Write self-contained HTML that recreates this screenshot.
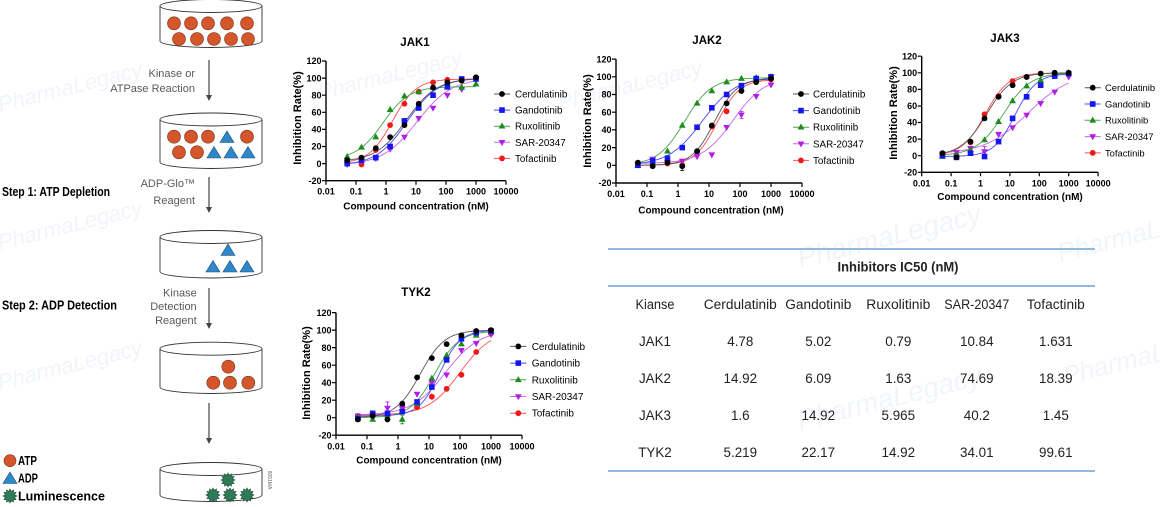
<!DOCTYPE html>
<html><head><meta charset="utf-8"><style>
html,body{margin:0;padding:0;background:#fff;overflow:hidden}
svg{display:block}
.t{font-weight:bold;font-size:11.5px;text-anchor:middle}
.ax{fill:none;stroke:#000;stroke-width:1.4}
.tk{fill:none;stroke:#000;stroke-width:1.2}
.yl{font-weight:bold;font-size:9px;text-anchor:end}
.xl{font-weight:bold;font-size:9px;text-anchor:middle}
.at{font-weight:bold;font-size:10px;text-anchor:middle}
.ay{font-weight:bold;font-size:11px;text-anchor:middle}
.lg{font-size:9.8px}
.gr{fill:#5a5a5a;font-size:11px;text-anchor:end}
.st{font-weight:bold;font-size:13px}
.tb{font-size:13.4px;fill:#222;text-anchor:middle}
.wm{font-style:italic;font-size:22px;fill:#dbe6f2;opacity:0.4}
</style></head><body>
<svg id="s" width="1160" height="507" viewBox="0 0 1160 507" xmlns="http://www.w3.org/2000/svg" font-family="'Liberation Sans', Arial, sans-serif">
<defs>
<circle id="ci" r="2.9"/>
<rect id="sq" x="-2.8" y="-2.8" width="5.6" height="5.6"/>
<path id="tu" d="M0,-3.7L3.4,2.3L-3.4,2.3Z"/>
<path id="td" d="M0,3.7L3.4,-2.3L-3.4,-2.3Z"/>
<path id="star" d="M7,0L4.64,1.24L6.06,3.5L3.39,3.39L3.5,6.06L1.24,4.64L0,7L-1.24,4.64L-3.5,6.06L-3.39,3.39L-6.06,3.5L-4.64,1.24L-7,0L-4.64,-1.24L-6.06,-3.5L-3.39,-3.39L-3.5,-6.06L-1.24,-4.64L0,-7L1.24,-4.64L3.5,-6.06L3.39,-3.39L6.06,-3.5L4.64,-1.24Z"/>
<path id="tri" d="M0,-6.5L7,5L-7,5Z"/>
</defs>
<rect width="1160" height="507" fill="#fff"/>

<!-- watermarks -->
<g class="wm">
<text transform="translate(0,112) rotate(-14)">PharmaLegacy</text>
<text transform="translate(0,250) rotate(-14)">PharmaLegacy</text>
<text transform="translate(0,390) rotate(-14)">PharmaLegacy</text>
<text transform="translate(320,100) rotate(-14)">PharmaLegacy</text>
<text transform="translate(560,110) rotate(-14)">PharmaLegacy</text>
<text transform="translate(800,268) rotate(-14)" font-size="28">PharmaLegacy</text>
<text transform="translate(800,430) rotate(-14)" font-size="28">PharmaLegacy</text>
<text transform="translate(1060,262) rotate(-14)" font-size="26">PharmaLegacy</text>
<text transform="translate(1065,385) rotate(-14)" font-size="26">PharmaLegacy</text>
</g>

<!-- LEFT DIAGRAM -->
<g stroke="#333" stroke-width="0.9" fill="#fff">
<path d="M160,6V41A51,6.5 0 0 0 262,41V6"/><ellipse cx="211" cy="6" rx="51" ry="6.5"/>
<path d="M160,119.5V162A51,6.5 0 0 0 262,162V119.5"/><ellipse cx="211" cy="119.5" rx="51" ry="6.5"/>
<path d="M160,237V271.5A51,6.5 0 0 0 262,271.5V237"/><ellipse cx="211" cy="237" rx="51" ry="6.5"/>
<path d="M160,348.7V387A51,6.5 0 0 0 262,387V348.7"/><ellipse cx="211" cy="348.7" rx="51" ry="6.5"/>
<path d="M160,469V495A51,6.5 0 0 0 262,495V469"/><ellipse cx="211" cy="469" rx="51" ry="6.5"/>
</g>
<g fill="#d4572c" stroke="#7a2e14" stroke-width="0.6">
<circle cx="174" cy="23.3" r="6.5"/><circle cx="191" cy="23.3" r="6.5"/><circle cx="208" cy="23.3" r="6.5"/><circle cx="227" cy="23.3" r="6.5"/><circle cx="247" cy="23.3" r="6.5"/>
<circle cx="179" cy="39" r="6.5"/><circle cx="197" cy="39" r="6.5"/><circle cx="214" cy="39" r="6.5"/><circle cx="231" cy="39" r="6.5"/><circle cx="248" cy="39" r="6.5"/>
<circle cx="174" cy="136.7" r="6.5"/><circle cx="191" cy="136.7" r="6.5"/><circle cx="208" cy="136.7" r="6.5"/><circle cx="247" cy="136.7" r="6.5"/>
<circle cx="179" cy="152.3" r="6.5"/><circle cx="197" cy="152.3" r="6.5"/>
<circle cx="228.3" cy="366.7" r="6.5"/><circle cx="213.3" cy="382.7" r="6.5"/><circle cx="230" cy="382.7" r="6.5"/><circle cx="248.3" cy="382.7" r="6.5"/>
<circle cx="10" cy="460.7" r="6"/>
</g>
<g fill="#2f86c8" stroke="#1d4f7a" stroke-width="0.6">
<use href="#tri" x="227" y="137.5"/>
<use href="#tri" x="214" y="153"/><use href="#tri" x="231" y="153"/><use href="#tri" x="248" y="153"/>
<use href="#tri" x="228" y="250.5"/>
<use href="#tri" x="213" y="267"/><use href="#tri" x="230" y="267"/><use href="#tri" x="247" y="267"/>
<use href="#tri" x="10" y="478.5"/>
</g>
<g fill="#2f7a58" stroke="#1b4a34" stroke-width="0.6">
<use href="#star" x="228" y="480"/><use href="#star" x="213" y="495"/><use href="#star" x="230" y="495"/><use href="#star" x="247" y="495"/>
<use href="#star" x="10" y="496"/>
</g>
<g stroke="#444" stroke-width="1.2" fill="none">
<path d="M209,60V96"/><path d="M209,177V208"/><path d="M209,288V324"/><path d="M209,403V439"/>
</g>
<g fill="#444">
<path d="M206,95L212,95L209,101Z"/><path d="M206,207L212,207L209,213Z"/><path d="M206,323L212,323L209,329Z"/><path d="M206,438L212,438L209,444Z"/>
</g>
<text class="gr" x="195" y="77">Kinase or</text>
<text class="gr" x="195" y="92">ATPase Reaction</text>
<text class="gr" x="195" y="187">ADP-Glo™</text>
<text class="gr" x="195" y="204">Reagent</text>
<text class="gr" x="196.7" y="296.7">Kinase</text>
<text class="gr" x="196.7" y="310">Detection</text>
<text class="gr" x="196.7" y="324">Reagent</text>
<text class="st" x="2" y="196" textLength="108" lengthAdjust="spacingAndGlyphs">Step 1: ATP Depletion</text>
<text class="st" x="2" y="309.5" textLength="115" lengthAdjust="spacingAndGlyphs">Step 2: ADP Detection</text>
<text class="st" x="18" y="465" textLength="19" lengthAdjust="spacingAndGlyphs">ATP</text>
<text class="st" x="18" y="482.5" textLength="20" lengthAdjust="spacingAndGlyphs">ADP</text>
<text class="st" x="18" y="500.5" textLength="87" lengthAdjust="spacingAndGlyphs">Luminescence</text>
<text transform="translate(268,480) rotate(90)" font-size="5" fill="#666" text-anchor="middle">8051MA</text>

<!-- JAK1 -->
<text class="t" x="415" y="46">JAK1</text>
<path class="ax" d="M326,61V180.7H506"/>
<path class="tk" d="M322,61H326M322,78.1H326M322,95.2H326M322,112.3H326M322,129.4H326M322,146.5H326M322,163.6H326M322,180.7H326M326,180.7v4M356,180.7v4M386,180.7v4M416,180.7v4M446,180.7v4M476,180.7v4M506,180.7v4"/>
<g class="yl"><text x="321.5" y="64.2">120</text><text x="321.5" y="81.3">100</text><text x="321.5" y="98.4">80</text><text x="321.5" y="115.5">60</text><text x="321.5" y="132.6">40</text><text x="321.5" y="149.7">20</text><text x="321.5" y="166.8">0</text><text x="321.5" y="183.9">-20</text></g>
<g class="xl"><text x="326" y="194.5">0.01</text><text x="356" y="194.5">0.1</text><text x="386" y="194.5">1</text><text x="416" y="194.5">10</text><text x="446" y="194.5">100</text><text x="476" y="194.5">1000</text><text x="506" y="194.5">10000</text></g>
<text class="at" x="416" y="209.5" font-size="9.9">Compound concentration (nM)</text>
<text class="ay" transform="translate(297,118) rotate(-90)" dy="4">Inhibition Rate(%)</text>

<!-- JAK2 -->
<text class="t" x="707" y="44">JAK2</text>
<path class="ax" d="M616,59.1V183H802"/>
<path class="tk" d="M612,59.1H616M612,76.8H616M612,94.5H616M612,112.2H616M612,129.9H616M612,147.6H616M612,165.3H616M612,183H616M616,183v4M647,183v4M678,183v4M709,183v4M740,183v4M771,183v4M802,183v4"/>
<g class="yl"><text x="611.5" y="62.3">120</text><text x="611.5" y="80">100</text><text x="611.5" y="97.7">80</text><text x="611.5" y="115.4">60</text><text x="611.5" y="133.1">40</text><text x="611.5" y="150.8">20</text><text x="611.5" y="168.5">0</text><text x="611.5" y="186.2">-20</text></g>
<g class="xl"><text x="616" y="196.8">0.01</text><text x="647" y="196.8">0.1</text><text x="678" y="196.8">1</text><text x="709" y="196.8">10</text><text x="740" y="196.8">100</text><text x="771" y="196.8">1000</text><text x="802" y="196.8">10000</text></g>
<text class="at" x="711" y="213.5" font-size="10.3">Compound concentration (nM)</text>
<text class="ay" transform="translate(587,121) rotate(-90)" dy="4">Inhibition Rate(%)</text>

<!-- JAK3 -->
<text class="t" x="1005" y="42" font-size="11">JAK3</text>
<path class="ax" d="M921.7,56.2V172.3H1098.1"/>
<path class="tk" d="M917.7,56.2H921.7M917.7,72.8H921.7M917.7,89.4H921.7M917.7,106H921.7M917.7,122.5H921.7M917.7,139.1H921.7M917.7,155.7H921.7M917.7,172.3H921.7M921.7,172.3v4M951.1,172.3v4M980.5,172.3v4M1009.9,172.3v4M1039.3,172.3v4M1068.7,172.3v4M1098.1,172.3v4"/>
<g class="yl"><text x="917.2" y="59.4">120</text><text x="917.2" y="76">100</text><text x="917.2" y="92.6">80</text><text x="917.2" y="109.2">60</text><text x="917.2" y="125.7">40</text><text x="917.2" y="142.3">20</text><text x="917.2" y="158.9">0</text><text x="917.2" y="175.5">-20</text></g>
<g class="xl"><text x="921.7" y="186.3">0.01</text><text x="951.1" y="186.3">0.1</text><text x="980.5" y="186.3">1</text><text x="1009.9" y="186.3">10</text><text x="1039.3" y="186.3">100</text><text x="1068.7" y="186.3">1000</text><text x="1098.1" y="186.3">10000</text></g>
<text class="at" x="1010" y="200" font-size="9.6">Compound concentration (nM)</text>
<text class="ay" transform="translate(893,113) rotate(-90)" dy="3.8" font-size="10.4">Inhibition Rate(%)</text>

<!-- TYK2 -->
<text class="t" x="416" y="296">TYK2</text>
<path class="ax" d="M336,312.6V435.2H522"/>
<path class="tk" d="M332,312.6H336M332,330.1H336M332,347.6H336M332,365.2H336M332,382.7H336M332,400.2H336M332,417.7H336M332,435.2H336M336,435.2v4M367,435.2v4M398,435.2v4M429,435.2v4M460,435.2v4M491,435.2v4M522,435.2v4"/>
<g class="yl"><text x="331.5" y="315.8">120</text><text x="331.5" y="333.3">100</text><text x="331.5" y="350.8">80</text><text x="331.5" y="368.4">60</text><text x="331.5" y="385.9">40</text><text x="331.5" y="403.4">20</text><text x="331.5" y="420.9">0</text><text x="331.5" y="438.4">-20</text></g>
<g class="xl"><text x="336" y="449.3">0.01</text><text x="367" y="449.3">0.1</text><text x="398" y="449.3">1</text><text x="429" y="449.3">10</text><text x="460" y="449.3">100</text><text x="491" y="449.3">1000</text><text x="522" y="449.3">10000</text></g>
<text class="at" x="429" y="463.5" font-size="10.2">Compound concentration (nM)</text>
<text class="ay" transform="translate(306,373) rotate(-90)" dy="4">Inhibition Rate(%)</text>

<!-- LEGENDS -->
<g stroke-width="1" fill="none">
<path stroke="#555" d="M494,94H510M793,94H809M1084.7,87.7H1100.7M510.3,346.4H526.3"/>
<path stroke="#4848ff" d="M494,110.1H510M793,110.6H809M1084.7,104H1100.7M510.3,363.1H526.3"/>
<path stroke="#45a845" d="M494,126.2H510M793,127.2H809M1084.7,120.3H1100.7M510.3,379.8H526.3"/>
<path stroke="#c864f0" d="M494,142.3H510M793,143.8H809M1084.7,136.6H1100.7M510.3,396.5H526.3"/>
<path stroke="#ff5050" d="M494,158.4H510M793,160.4H809M1084.7,152.9H1100.7M510.3,413.2H526.3"/>
</g>
<g fill="#000"><use href="#ci" x="502" y="94"/><use href="#ci" x="801" y="94"/><use href="#ci" x="1092.7" y="87.7"/><use href="#ci" x="518.3" y="346.4"/></g>
<g fill="#1515ee"><use href="#sq" x="502" y="110.1"/><use href="#sq" x="801" y="110.6"/><use href="#sq" x="1092.7" y="104"/><use href="#sq" x="518.3" y="363.1"/></g>
<g fill="#1e8a1e"><use href="#tu" x="502" y="126.2"/><use href="#tu" x="801" y="127.2"/><use href="#tu" x="1092.7" y="120.3"/><use href="#tu" x="518.3" y="379.8"/></g>
<g fill="#b01ee8"><use href="#td" x="502" y="142.3"/><use href="#td" x="801" y="143.8"/><use href="#td" x="1092.7" y="136.6"/><use href="#td" x="518.3" y="396.5"/></g>
<g fill="#ee1a1a"><use href="#ci" x="502" y="158.4"/><use href="#ci" x="801" y="160.4"/><use href="#ci" x="1092.7" y="152.9"/><use href="#ci" x="518.3" y="413.2"/></g>
<g class="lg">
<text x="515" y="97.5">Cerdulatinib</text><text x="515" y="113.6">Gandotinib</text><text x="515" y="129.7">Ruxolitinib</text><text x="515" y="145.8">SAR-20347</text><text x="515" y="161.9">Tofactinib</text>
<text x="813" y="97.5">Cerdulatinib</text><text x="813" y="114.1">Gandotinib</text><text x="813" y="130.7">Ruxolitinib</text><text x="813" y="147.3">SAR-20347</text><text x="813" y="163.9">Tofactinib</text>
<text x="1105" y="91.1" font-size="9.4">Cerdulatinib</text><text x="1105" y="107.4" font-size="9.4">Gandotinib</text><text x="1105" y="123.7" font-size="9.4">Ruxolitinib</text><text x="1105" y="140" font-size="9.4">SAR-20347</text><text x="1105" y="156.3" font-size="9.4">Tofactinib</text>
<text x="531.7" y="349.9" font-size="10">Cerdulatinib</text><text x="531.7" y="366.6" font-size="10">Gandotinib</text><text x="531.7" y="383.3" font-size="10">Ruxolitinib</text><text x="531.7" y="400" font-size="10">SAR-20347</text><text x="531.7" y="416.7" font-size="10">Tofactinib</text>
</g>

<!-- DATA (curves + points) -->
<g id="plot"></g>

<!-- TABLE -->
<path d="M608,249H1095M608,286H1095M608,471H1095" stroke="#94b8de" stroke-width="2" fill="none"/>
<text x="898" y="271.5" font-weight="bold" font-size="13.5" text-anchor="middle" fill="#222" textLength="121" lengthAdjust="spacingAndGlyphs">Inhibitors IC50 (nM)</text>
<g class="tb">
<text x="655" y="308.8" textLength="39" lengthAdjust="spacingAndGlyphs">Kianse</text>
<text x="740.3" y="308.8" textLength="73" lengthAdjust="spacingAndGlyphs">Cerdulatinib</text>
<text x="818.3" y="308.8" textLength="66" lengthAdjust="spacingAndGlyphs">Gandotinib</text>
<text x="898.3" y="308.8" textLength="64" lengthAdjust="spacingAndGlyphs">Ruxolitinib</text>
<text x="976.8" y="308.8" textLength="65" lengthAdjust="spacingAndGlyphs">SAR-20347</text>
<text x="1055.8" y="308.8" textLength="58" lengthAdjust="spacingAndGlyphs">Tofactinib</text>
</g>
<g class="tb" font-size="13">
<text x="655" y="346.2">JAK1</text><text x="740.3" y="346.2">4.78</text><text x="818.3" y="346.2">5.02</text><text x="898.3" y="346.2">0.79</text><text x="976.8" y="346.2">10.84</text><text x="1055.8" y="346.2">1.631</text>
<text x="655" y="382.8">JAK2</text><text x="740.3" y="382.8">14.92</text><text x="818.3" y="382.8">6.09</text><text x="898.3" y="382.8">1.63</text><text x="976.8" y="382.8">74.69</text><text x="1055.8" y="382.8">18.39</text>
<text x="655" y="420.2">JAK3</text><text x="740.3" y="420.2">1.6</text><text x="818.3" y="420.2">14.92</text><text x="898.3" y="420.2">5.965</text><text x="976.8" y="420.2">40.2</text><text x="1055.8" y="420.2">1.45</text>
<text x="655" y="456.8">TYK2</text><text x="740.3" y="456.8">5.219</text><text x="818.3" y="456.8">22.17</text><text x="898.3" y="456.8">14.92</text><text x="976.8" y="456.8">34.01</text><text x="1055.8" y="456.8">99.61</text>
</g>
</svg>
<script>
(function(){
var NS='http://www.w3.org/2000/svg';
var g=document.getElementById('plot');
var C=[];for(var k=9;k>=0;k--)C.push(1000/Math.pow(3,k));
var COL=['#000000','#1515ee','#1e8a1e','#b01ee8','#ee1a1a'];
var LC=['#555555','#4848ff','#45a845','#c864f0','#ff5050'];
var SH=['ci','sq','tu','td','ci'];
function el(n,a){var e=document.createElementNS(NS,n);for(var q in a)e.setAttribute(q,a[q]);g.appendChild(e);return e;}
var charts=[
{x0:326,d:30,y0:163.6,s:0.855,
 pts:[[4,7,18,31,45,70,89,95,97,101],[0,4,7,20,50,65,80,90,99,99],[8,19,31,63,79,84,89,89,89,93],[-1,3,6,17,31,53,65,80,87,99],[3,-1,16,45,70,84,95,98,98,99]],
 fit:[[2,100,4.78,0.85],[-2,100,5.02,0.85],[5,90,0.79,1.0],[-2,100,10.84,0.75],[0,99,1.631,1.1]],err:[]},
{x0:616,d:31,y0:165.3,s:0.885,
 pts:[[3,-1,3,-1,16,45,70,84,94,98],[0,5,8,20,43,65,80,90,98,100],[0,3,16,45,70,84,94,98,99,100],[1,7,3,5,10,12,43,57,78,91],[1,0,2,0,15,44,61,84,94,97]],
 fit:[[0,98,14.92,1.2],[0,100,6.09,0.8],[0,99,1.63,1.0],[2,100,60,0.85],[0,97,18.39,1.2]],err:[[0,3,5],[3,7,4]]},
{x0:921.7,d:29.4,y0:155.7,s:0.829,
 pts:[[3,-2,17,45,71,85,95,99,100,100],[0,-2,3,-1,17,45,71,85,96,99],[-1,1,7,19,41,66,84,91,98,100],[2,4,9,5,26,34,49,63,77,95],[2,0,16,50,72,90,95,99,100,100]],
 fit:[[0,100,1.6,1.0],[-1,99,14.92,1.2],[0,100,5.965,0.95],[2,100,40.2,0.6],[0,100,1.45,1.1]],err:[[3,3,6]]},
{x0:336,d:31,y0:417.7,s:0.876,
 pts:[[-2,2,-2,16,46,68,84,94,99,100],[-1,5,5,7,18,35,66,90,97,99],[1,-2,3,-2,16,45,71,84,94,98],[2,3,11,11,27,40,49,77,85,95],[2,3,4,13,12,24,33,49,75,96]],
 fit:[[0,100,5.219,1.1],[2,100,22.17,1.3],[0,99,14.92,1.1],[3,100,34.01,0.8],[3,100,99.61,0.85]],err:[[2,3,5],[3,2,7],[3,3,5]]}
];
var order=[4,3,2,1,0];
charts.forEach(function(ch){
 function X(c){return ch.x0+(Math.log10(c)+2)*ch.d;}
 function Y(v){return ch.y0-v*ch.s;}
 var l0=Math.log10(C[0]),l1=3;
 order.forEach(function(i){var f=ch.fit[i],d='';for(var j=0;j<=90;j++){var lc=l0+j*(l1-l0)/90;var v=f[0]+(f[1]-f[0])/(1+Math.pow(10,(Math.log10(f[2])-lc)*f[3]));d+=(j?'L':'M')+X(Math.pow(10,lc)).toFixed(2)+','+Y(v).toFixed(2);}
  el('path',{d:d,fill:'none',stroke:LC[i],'stroke-width':0.9});});
 ch.err.forEach(function(e){var i=e[0],k=e[1],w=e[2],x=X(C[k]),v=ch.pts[i][k];
  el('path',{d:'M'+x+','+Y(v+w)+'V'+Y(v-w)+'M'+(x-2)+','+Y(v+w)+'h4M'+(x-2)+','+Y(v-w)+'h4',stroke:COL[i],'stroke-width':0.8,fill:'none'});});
 order.forEach(function(i){ch.pts[i].forEach(function(v,k){el('use',{href:'#'+SH[i],x:X(C[k]).toFixed(2),y:Y(v).toFixed(2),fill:COL[i]});});});
});
})();
</script>
</body></html>
